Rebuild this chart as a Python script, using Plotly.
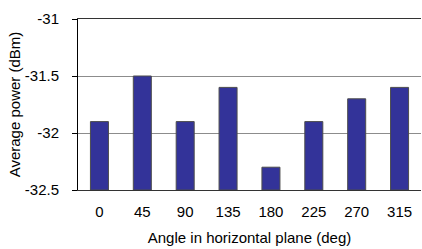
import plotly.graph_objects as go

angles = ["0", "45", "90", "135", "180", "225", "270", "315"]
power = [-31.9, -31.5, -31.9, -31.6, -32.3, -31.9, -31.7, -31.6]
base_level = -32.5
y_ticks = [-32.5, -32, -31.5, -31]
y_tick_labels = ["-32.5", "-32", "-31.5", "-31"]

fig = go.Figure()
fig.add_trace(go.Bar(
    x=angles,
    y=[p - base_level for p in power],
    base=base_level,
    marker=dict(color="#333399", line=dict(color="#4d4d4d", width=1)),
    width=0.42,
))

font = dict(family="Liberation Sans, Arial, sans-serif", size=15, color="#000000")
fig.update_layout(
    width=422, height=249,
    margin=dict(l=78, r=1, t=19, b=59, autoexpand=False),
    paper_bgcolor="white", plot_bgcolor="white",
    showlegend=False,
    font=font,
    xaxis=dict(
        type="category",
        showline=True, mirror=True, linecolor="#333333", linewidth=1,
        showgrid=False, ticks="", ticklabelstandoff=8,
        tickfont=dict(size=15),
        title=dict(text="Angle in horizontal plane (deg)", font=dict(size=15), standoff=13),
    ),
    yaxis=dict(
        range=[-32.5, -31],
        tickvals=y_ticks, ticktext=y_tick_labels,
        showline=True, linecolor="#000000", linewidth=1,
        ticks="outside", ticklen=5, tickcolor="#000000",
        ticklabelstandoff=10,
        tickfont=dict(size=15),
        showgrid=True, gridcolor="#8c8c8c", gridwidth=1,
        zeroline=False,
        title=dict(text="Average power (dBm)", font=dict(size=15), standoff=0),
    ),
)

fig.write_html(
    "out.html",
    config={"displayModeBar": False},
    post_script="document.body.style.margin='0';document.body.style.padding='0';",
)
